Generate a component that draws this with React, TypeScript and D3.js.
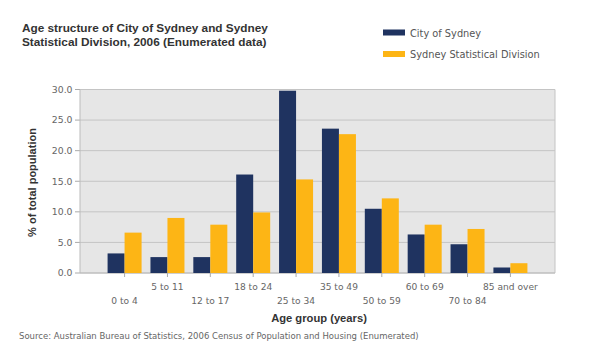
import React from "react";
import * as d3 from "d3";

const categories = ["0 to 4", "5 to 11", "12 to 17", "18 to 24", "25 to 34", "35 to 49", "50 to 59", "60 to 69", "70 to 84", "85 and over"];
const cityOfSydney = [3.2, 2.6, 2.6, 16.1, 29.8, 23.6, 10.5, 6.3, 4.7, 0.9];
const sydneySD = [6.6, 9.0, 7.9, 9.9, 15.3, 22.7, 12.2, 7.9, 7.2, 1.6];
const yTicks = [0, 5, 10, 15, 20, 25, 30];
const seriesNames = ["City of Sydney", "Sydney Statistical Division"];
const colors = ["#1f3360", "#fdb515"];

export default function App() {
  const W = 600, H = 354;
  const left = 80, right = 555, top = 89.5, bottom = 273;
  const x = d3.scalePoint<string>().domain(categories).range([left, right]).padding(1.04);
  const y = d3.scaleLinear().domain([0, 30]).range([bottom, top]);
  const barW = 17;
  const bold = "'Liberation Sans', Arial, sans-serif";
  const light = "'DejaVu Sans', Verdana, sans-serif";
  return (
    <svg width={W} height={H} style={{ position: "absolute", left: 0, top: 0, background: "#fff" }} fontFamily={bold}>
      <text x={22} y={32} fontSize={11.8} fontWeight="bold" fill="#333">Age structure of City of Sydney and Sydney</text>
      <text x={22} y={45.5} fontSize={11.8} fontWeight="bold" fill="#333">Statistical Division, 2006 (Enumerated data)</text>
      {seriesNames.map((s, i) => (
        <g key={s}>
          <rect x={383} y={29.5 + i * 21.5} width={22} height={6} fill={colors[i]} />
          <text x={410} y={36.5 + i * 21.5} fontSize={9.8} fill="#555" fontFamily={light}>{s}</text>
        </g>
      ))}
      <rect x={left} y={top} width={right - left} height={bottom - top} fill="#e6e6e6" />
      {yTicks.map(t => (
        <g key={t}>
          <line x1={left} x2={right} y1={y(t)} y2={y(t)} stroke="#c4c4c4" strokeWidth={1} />
          <line x1={left - 5} x2={left} y1={y(t)} y2={y(t)} stroke="#aaa" />
          <text x={72.5} y={y(t) + 3.3} fontSize={9.3} fill="#666" textAnchor="end" fontFamily={light}>{t.toFixed(1)}</text>
        </g>
      ))}
      <line x1={right} x2={right} y1={top} y2={bottom} stroke="#c4c4c4" />
      <line x1={left} x2={left} y1={top} y2={bottom} stroke="#bbb" />
      <line x1={left} x2={right} y1={bottom} y2={bottom} stroke="#bbb" />
      {categories.map((c, i) => {
        const cx = x(c)!;
        return (
          <g key={c}>
            <rect x={cx - barW} y={y(cityOfSydney[i])} width={barW} height={bottom - y(cityOfSydney[i])} fill={colors[0]} />
            <rect x={cx} y={y(sydneySD[i])} width={barW} height={bottom - y(sydneySD[i])} fill={colors[1]} />
            <line x1={cx} x2={cx} y1={bottom} y2={bottom + 4} stroke="#aaa" />
            <text x={cx} y={i % 2 === 1 ? 290 : 304} fontSize={9.1} fill="#666" textAnchor="middle" fontFamily={light}>{c}</text>
          </g>
        );
      })}
      <text x={319} y={322} fontSize={11.2} fontWeight="bold" fill="#333" textAnchor="middle">Age group (years)</text>
      <text transform={`translate(36, 182.5) rotate(-90)`} fontSize={11} fontWeight="bold" fill="#333" textAnchor="middle">% of total population</text>
      <text x={19} y={339} fontSize={8.5} fill="#666" fontFamily={light}>Source: Australian Bureau of Statistics, 2006 Census of Population and Housing (Enumerated)</text>
    </svg>
  );
}
